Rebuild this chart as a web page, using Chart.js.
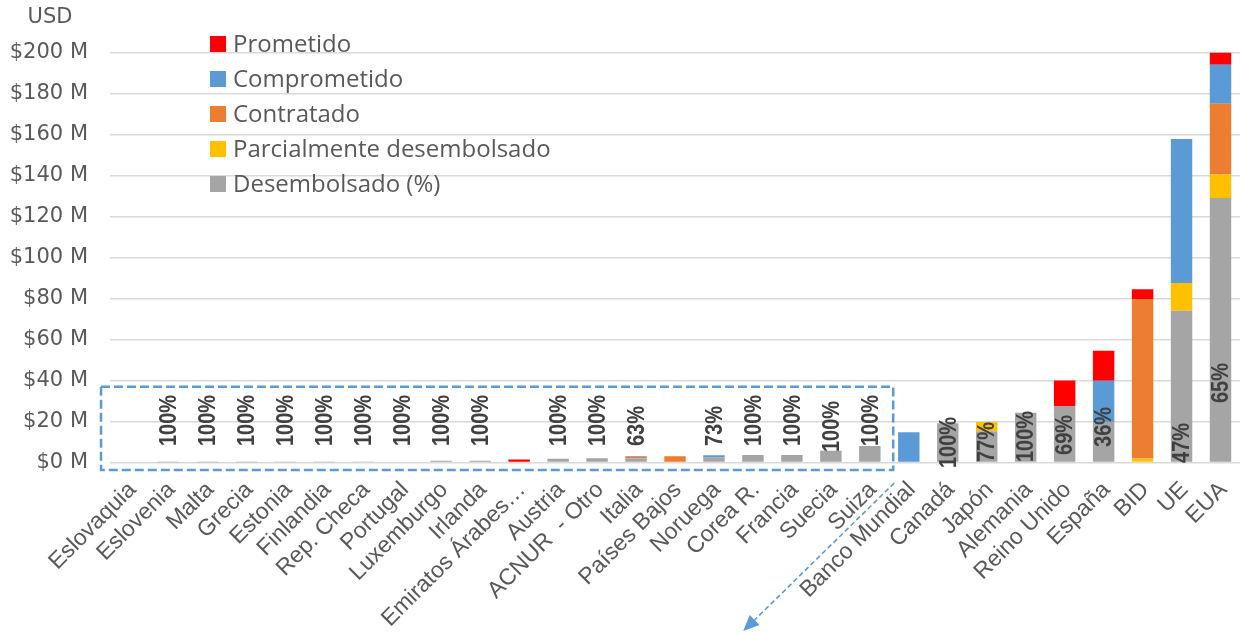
<!DOCTYPE html>
<html><head><meta charset="utf-8">
<script src="https://cdn.jsdelivr.net/npm/chart.js@4.4.1/dist/chart.umd.min.js"></script>
<style>html,body{margin:0;padding:0;background:#fff;}#wrap{width:1240px;height:634px;}</style>
</head><body><div id="wrap"><canvas id="c" width="1240" height="634"></canvas></div>
<script>
const categories = ['Eslovaquia','Eslovenia','Malta','Grecia','Estonia','Finlandia','Rep. Checa','Portugal','Luxemburgo','Irlanda','Emiratos Árabes…','Austria','ACNUR  - Otro','Italia','Países Bajos','Noruega','Corea R.','Francia','Suecia','Suiza','Banco Mundial','Canadá','Japón','Alemania','Reino Unido','España','BID','UE','EUA'];
// values in millions of USD
const desembolsado = [0,0.02,0.03,0.05,0.07,0.1,0.2,0.35,0.8,0.9,0,1.8,2.1,2.0,0,2.6,3.6,3.7,5.7,8.1,0,19.1,15.2,24.3,27.6,19.8,0,74.0,129.0];
const parcial      = [0,0,0,0,0,0,0,0,0,0,0,0,0,0,0,0,0,0,0,0,0,0,4.5,0,0,0,2.0,13.6,11.5];
const contratado   = [0,0,0,0,0,0,0,0,0,0,0,0,0,0.8,3.1,0,0,0,0,0,0,0,0,0,0,0,77.8,0,34.5];
const comprometido = [0,0,0,0,0,0,0,0,0,0,0,0,0,0.4,0,0.95,0,0,0,0,14.8,0,0,0,0,20.1,0,70.2,19.0];
const prometido    = [0,0,0,0,0,0,0,0,0,0,1.5,0,0,0,0,0,0,0,0,0,0,0,0,0,12.4,14.6,4.7,0,6.0];
const pctLabels = ['','100%','100%','100%','100%','100%','100%','100%','100%','100%','','100%','100%','63%','','73%','100%','100%','100%','100%','','100%','77%','100%','69%','36%','','47%','65%'];
// value (M) where each percentage label starts
const pctLabelAt = [0,8,8,8,8,8,8,8,8,8,0,8,8,8,0,8,8,8,5.1,8,0,-2.7,0.2,0.2,3.7,7.6,0,-0.2,29];
const yTicks = [0,20,40,60,80,100,120,140,160,180,200];
const seriesNames = ['Desembolsado (%)','Parcialmente desembolsado','Contratado','Comprometido','Prometido'];
const seriesColors = ['#A5A5A5','#FFC000','#ED7D31','#5B9BD5','#FF0000'];
const seriesData = [desembolsado, parcial, contratado, comprometido, prometido];

const FONT_TXT = '#595959';

const extras = {
  id: 'extras',
  afterDatasetsDraw(chart) {
    const ctx = chart.ctx, xs = chart.scales.x, ys = chart.scales.y;
    // percentage labels
    ctx.save();
    ctx.fillStyle = '#404040';
    ctx.font = 'bold 20px "Liberation Sans", Arial, sans-serif';
    ctx.textAlign = 'left';
    ctx.textBaseline = 'middle';
    pctLabels.forEach((t, i) => {
      if (!t) return;
      const x = xs.getPixelForValue(i);
      const y = ys.getPixelForValue(pctLabelAt[i]);
      ctx.save();
      ctx.translate(x, y);
      ctx.rotate(-Math.PI / 2);
      ctx.scale(1, 1.19);
      ctx.fillText(t, 0, 1);
      ctx.restore();
    });
    ctx.restore();
    // dashed box around small donors
    const step = xs.getPixelForValue(1) - xs.getPixelForValue(0);
    const bl = xs.getPixelForValue(0) - 0.73 * step;
    const br = xs.getPixelForValue(19) + 0.6 * step;
    const bt = ys.getPixelForValue(37);
    const bb = ys.getPixelForValue(-3.7);
    ctx.save();
    ctx.strokeStyle = '#5B9BD5';
    ctx.lineWidth = 2.5;
    ctx.setLineDash([9, 4]);
    ctx.strokeRect(bl, bt, br - bl, bb - bt);
    // arrow
    const sx = br + 1, sy = bb + 13;
    const ex = sx - 151, ey = sy + 148;
    const ang = Math.atan2(ey - sy, ex - sx);
    const hl = 16, hw = 7;
    const lx = ex - hl * Math.cos(ang), ly = ey - hl * Math.sin(ang);
    ctx.lineWidth = 1.6;
    ctx.setLineDash([5, 3]);
    ctx.beginPath(); ctx.moveTo(sx, sy); ctx.lineTo(lx, ly); ctx.stroke();
    ctx.setLineDash([]);
    ctx.fillStyle = '#5B9BD5';
    ctx.beginPath();
    ctx.moveTo(ex, ey);
    ctx.lineTo(lx + hw * Math.sin(ang), ly - hw * Math.cos(ang));
    ctx.lineTo(lx - hw * Math.sin(ang), ly + hw * Math.cos(ang));
    ctx.closePath(); ctx.fill();
    ctx.restore();
  },
  afterDraw(chart) {
    const ctx = chart.ctx, ca = chart.chartArea;
    ctx.save();
    // USD unit
    ctx.fillStyle = FONT_TXT;
    ctx.font = '21px "DejaVu Sans", sans-serif';
    ctx.textAlign = 'center';
    ctx.textBaseline = 'middle';
    ctx.fillText('USD', ca.left - 60, ca.top - 35);
    // legend (reverse order of stack)
    ctx.font = '24px "Open Sans", sans-serif';
    ctx.textAlign = 'left';
    const ds = chart.data.datasets.slice().reverse();
    ds.forEach((d, i) => {
      const y = ca.top - 8.5 + i * 35;
      ctx.fillStyle = d.backgroundColor;
      ctx.fillRect(ca.left + 100, y - 8, 16, 16);
      ctx.fillStyle = FONT_TXT;
      ctx.fillText(d.label, ca.left + 123, y + 1);
    });
    ctx.restore();
  }
};

new Chart(document.getElementById('c'), {
  type: 'bar',
  data: {
    labels: categories,
    datasets: seriesNames.map((n, k) => ({
      label: n,
      data: seriesData[k],
      backgroundColor: seriesColors[k],
      borderWidth: 0,
      categoryPercentage: 1,
      barPercentage: 0.55
    }))
  },
  options: {
    responsive: false,
    animation: false,
    devicePixelRatio: 1,
    layout: { padding: { top: 52.5, left: 0, right: 0, bottom: 0 } },
    plugins: { legend: { display: false }, tooltip: { enabled: false } },
    scales: {
      x: {
        stacked: true,
        grid: { display: false },
        border: { display: false },
        ticks: {
          autoSkip: false, minRotation: 45, maxRotation: 45,
          color: FONT_TXT, padding: 6, labelOffset: 3,
          font: { family: '"Liberation Sans", Arial, sans-serif', size: 23 }
        },
        afterFit(s) { s.height = 171.5; s.paddingLeft = 0; s.paddingRight = 0; }
      },
      y: {
        stacked: true, min: 0, max: 200,
        afterBuildTicks(s) { s.ticks = yTicks.map(v => ({ value: v })); },
        grid: { color: '#D9D9D9', lineWidth: 1.5, drawTicks: false },
        border: { display: false },
        ticks: {
          color: FONT_TXT, padding: 22,
          font: { family: '"DejaVu Sans", sans-serif', size: 21 },
          callback: v => '$' + v + ' M'
        },
        afterFit(s) { s.width = 110; }
      }
    }
  },
  plugins: [extras]
});
</script>
</body></html>
